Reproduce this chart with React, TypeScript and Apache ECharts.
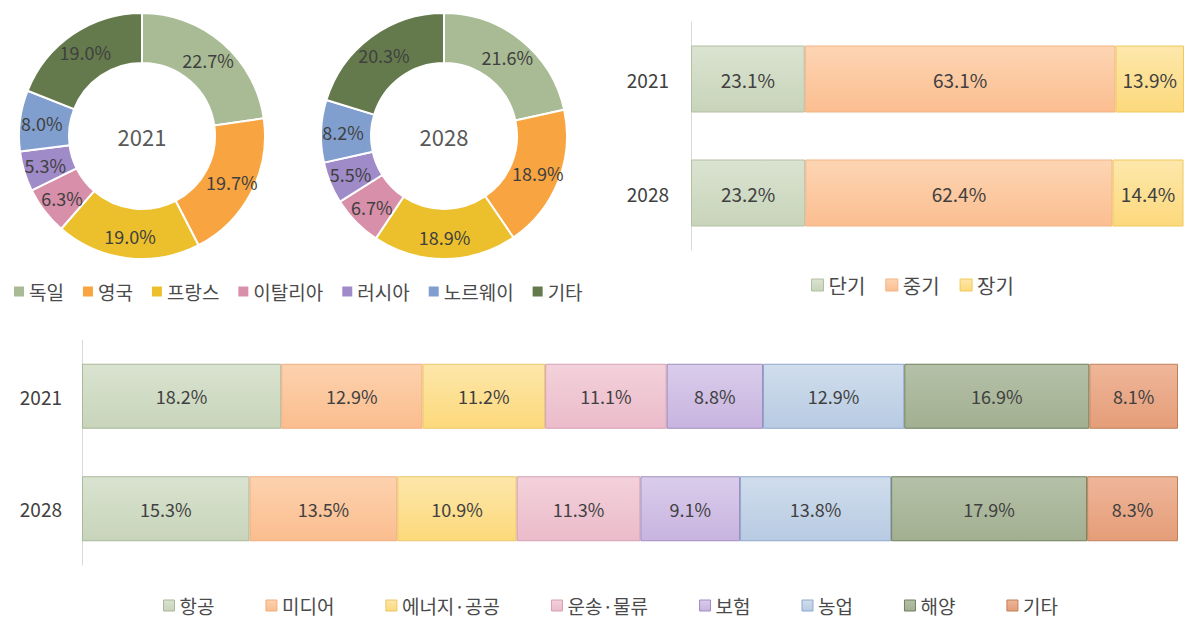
import React, { useEffect, useRef } from "react";
import * as echarts from "echarts";

// ---- Data ----
const donutNames = ["독일", "영국", "프랑스", "이탈리아", "러시아", "노르웨이", "기타"];
const donut2021 = [22.7, 19.7, 19.0, 6.3, 5.3, 8.0, 19.0];
const donut2028 = [21.6, 18.9, 18.9, 6.7, 5.5, 8.2, 20.3];
const donutYears = ["2021", "2028"];

const termYears = ["2021", "2028"];
const termNames = ["단기", "중기", "장기"];
const termShort = [23.1, 23.2];
const termMid = [63.1, 62.4];
const termLong = [13.9, 14.4];

const sectorYears = ["2021", "2028"];
const sectorNames = ["항공", "미디어", "에너지·공공", "운송·물류", "보험", "농업", "해양", "기타"];
const sector2021 = [18.2, 12.9, 11.2, 11.1, 8.8, 12.9, 16.9, 8.1];
const sector2028 = [15.3, 13.5, 10.9, 11.3, 9.1, 13.8, 17.9, 8.3];

// ---- Styles ----
const FONT = "'Noto Sans CJK KR', 'Noto Sans', sans-serif";
const donutColors = ["#a8bb94", "#f8a541", "#ecbf2c", "#d88fa9", "#a08bc9", "#809fce", "#647a4c"];
const termStyles = [
  { top: "#dae3d0", bottom: "#c8d4ba", border: "#b3c0a3" },
  { top: "#fdd5b3", bottom: "#fbbe90", border: "#f2b385" },
  { top: "#fde7ab", bottom: "#fcd97c", border: "#f0c95a" },
];
const sectorStyles = [
  { top: "#d9e3d0", bottom: "#c8d4ba", border: "#a9b79b" },
  { top: "#fdd2ae", bottom: "#fbbd8e", border: "#f0ae80" },
  { top: "#fde6aa", bottom: "#fcd97a", border: "#eac668" },
  { top: "#f3d1db", bottom: "#ebbbca", border: "#d6a0b3" },
  { top: "#dacceb", bottom: "#c8b4df", border: "#9f8cbf" },
  { top: "#d0ddec", bottom: "#b8cbe3", border: "#8ea8cc" },
  { top: "#b5c1a8", bottom: "#a2af90", border: "#6f7f5d" },
  { top: "#efb699", bottom: "#e49d78", border: "#bf8059" },
];

const grad = (top: string, bottom: string) =>
  new echarts.graphic.LinearGradient(0, 0, 0, 1, [
    { offset: 0, color: top },
    { offset: 1, color: bottom },
  ]);

const pctFmt = (p: any) => Number(p.value).toFixed(1) + "%";

export default function App() {
  const ref = useRef<HTMLDivElement>(null);

  useEffect(() => {
    if (!ref.current) return;
    const chart = echarts.init(ref.current, null, { renderer: "svg" });

    const donutCenters = [
      [142, 136],
      [444, 136],
    ];
    const donutData = [donut2021, donut2028];

    const pieSeries = donutData.map((vals, k) => ({
      type: "pie",
      center: donutCenters[k],
      radius: [73, 123],
      startAngle: 90,
      clockwise: true,
      avoidLabelOverlap: false,
      itemStyle: { borderColor: "#ffffff", borderWidth: 2 },
      label: {
        show: true,
        position: "inside",
        formatter: pctFmt,
        fontSize: 18,
        fontFamily: FONT,
        color: "#404040",
      },
      labelLine: { show: false },
      emphasis: { disabled: true },
      data: donutNames.map((n, i) => ({
        name: n,
        value: vals[i],
        itemStyle: { color: donutColors[i] },
      })),
    }));

    const termVals = [termShort, termMid, termLong];
    const termSeries = termNames.map((n, i) => ({
      type: "bar",
      name: n,
      stack: "term",
      xAxisIndex: 0,
      yAxisIndex: 0,
      barWidth: 67,
      itemStyle: {
        color: grad(termStyles[i].top, termStyles[i].bottom),
        borderColor: termStyles[i].border,
        borderWidth: 1,
      },
      label: {
        show: true,
        position: "inside",
        formatter: pctFmt,
        fontSize: 19,
        fontFamily: FONT,
        color: "#404040",
      },
      emphasis: { disabled: true },
      data: termVals[i],
    }));

    const sectorSeries = sectorNames.map((n, i) => ({
      type: "bar",
      name: n,
      stack: "sector",
      xAxisIndex: 1,
      yAxisIndex: 1,
      barWidth: 65,
      itemStyle: {
        color: grad(sectorStyles[i].top, sectorStyles[i].bottom),
        borderColor: sectorStyles[i].border,
        borderWidth: 1,
      },
      label: {
        show: true,
        position: "inside",
        formatter: pctFmt,
        fontSize: 18,
        fontFamily: FONT,
        color: "#404040",
      },
      emphasis: { disabled: true },
      data: [sector2021[i], sector2028[i]],
    }));

    const catAxis = (gridIndex: number, data: string[], margin: number, fontSize: number) => ({
      type: "category",
      gridIndex,
      data,
      inverse: true,
      axisLine: { show: true, lineStyle: { color: "#d9d9d9", width: 1 } },
      axisTick: { show: false },
      axisLabel: { fontSize, fontFamily: FONT, color: "#404040", margin },
      splitLine: { show: false },
    });

    const valAxis = (gridIndex: number) => ({
      type: "value",
      gridIndex,
      min: 0,
      max: 100.1,
      show: false,
      splitLine: { show: false },
    });

    chart.setOption({
      animation: false,
      backgroundColor: "#ffffff",
      textStyle: { fontFamily: FONT },
      grid: [
        { left: 691, right: 8, top: 22, height: 228, containLabel: false },
        { left: 82, right: 14, top: 340, height: 225, containLabel: false },
      ],
      xAxis: [valAxis(0), valAxis(1)],
      yAxis: [catAxis(0, termYears, 22, 19), catAxis(1, sectorYears, 20, 19)],
      legend: [
        {
          left: 9,
          top: 277,
          orient: "horizontal",
          itemWidth: 10,
          itemHeight: 10,
          itemGap: 19,
          selectedMode: false,
          icon: "rect",
          textStyle: { fontSize: 19, fontFamily: FONT, color: "#4a4a4a" },
          itemStyle: { borderWidth: 0 },
          data: donutNames.map((n, i) => ({
            name: n,
            itemStyle: { color: donutColors[i], borderWidth: 0 },
          })),
        },
        {
          left: 806,
          top: 270,
          orient: "horizontal",
          itemWidth: 12,
          itemHeight: 12,
          itemGap: 20,
          selectedMode: false,
          icon: "rect",
          textStyle: { fontSize: 20, fontFamily: FONT, color: "#4a4a4a" },
          itemStyle: { borderWidth: 1 },
          data: termNames,
        },
        {
          left: 158,
          top: 591,
          orient: "horizontal",
          itemWidth: 11,
          itemHeight: 11,
          itemGap: 51,
          selectedMode: false,
          icon: "rect",
          textStyle: { fontSize: 19, fontFamily: FONT, color: "#4a4a4a" },
          itemStyle: { borderWidth: 1 },
          data: sectorNames,
        },
      ],
      graphic: donutYears.map((y, k) => ({
        type: "text",
        x: donutCenters[k][0],
        y: donutCenters[k][1],
        style: {
          text: y,
          fontSize: 22,
          fontFamily: FONT,
          fill: "#595959",
          align: "center",
          verticalAlign: "middle",
        },
      })),
      series: [...pieSeries, ...termSeries, ...sectorSeries],
    });

    return () => {
      chart.dispose();
    };
  }, []);

  return (
    <div
      ref={ref}
      style={{ position: "absolute", left: 0, top: 0, width: 1192, height: 621, background: "#fff" }}
    />
  );
}
